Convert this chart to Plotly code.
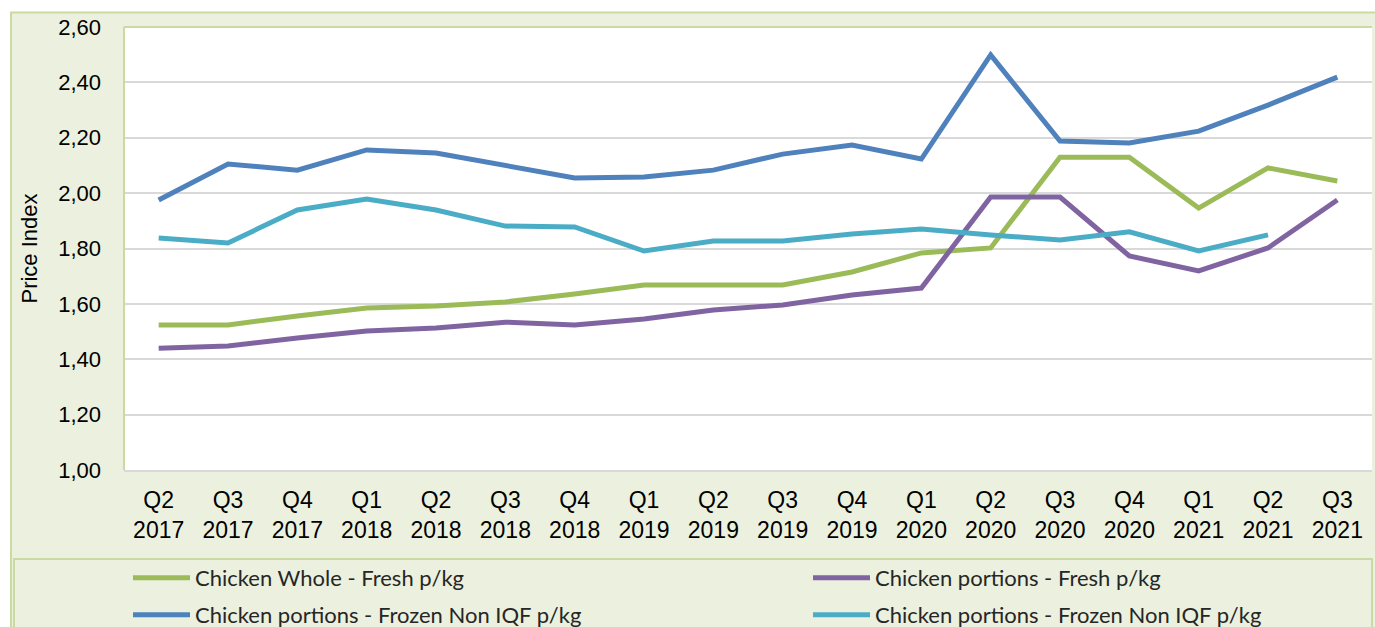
import plotly.graph_objects as go

quarters = ["Q2<br>2017", "Q3<br>2017", "Q4<br>2017", "Q1<br>2018", "Q2<br>2018", "Q3<br>2018",
            "Q4<br>2018", "Q1<br>2019", "Q2<br>2019", "Q3<br>2019", "Q4<br>2019", "Q1<br>2020",
            "Q2<br>2020", "Q3<br>2020", "Q4<br>2020", "Q1<br>2021", "Q2<br>2021", "Q3<br>2021"]

whole_fresh = [1.524, 1.524, 1.556, 1.585, 1.592, 1.607, 1.636, 1.668, 1.668, 1.668, 1.715, 1.784,
               1.802, 2.130, 2.130, 1.946, 2.091, 2.044]
portions_fresh = [1.440, 1.448, 1.477, 1.502, 1.513, 1.534, 1.524, 1.545, 1.578, 1.596, 1.632, 1.657,
                  1.986, 1.986, 1.773, 1.719, 1.802, 1.975]
portions_frozen_a = [1.975, 2.105, 2.083, 2.156, 2.145, 2.098, 2.055, 2.058, 2.083, 2.141, 2.174, 2.123,
                     2.499, 2.188, 2.181, 2.224, 2.318, 2.419]
portions_frozen_b = [1.838, 1.820, 1.939, 1.979, 1.939, 1.881, 1.878, 1.791, 1.827, 1.827, 1.852, 1.870,
                     1.849, 1.831, 1.860, 1.791, 1.849, None]

names = ["Chicken Whole - Fresh p/kg", "Chicken portions - Fresh p/kg",
         "Chicken portions - Frozen Non IQF p/kg", "Chicken portions - Frozen Non IQF p/kg"]
colors = ["#9BBB59", "#8064A2", "#4F81BD", "#4BACC6"]
series = [whole_fresh, portions_fresh, portions_frozen_a, portions_frozen_b]
legend_ids = ["legend", "legend2", "legend3", "legend4"]
# legend anchor positions in page pixels (x of entry, y of row centre)
legend_pos = [(128, 578), (808, 578), (128, 615), (808, 615)]

W, H = 1375, 627
PL, PR, PT, PB = 124, 1372, 27, 470  # plot area in page pixels
ML, MR, MT, MB = PL, W - PR, PT, H - PB
PW, PH = W - ML - MR, H - MT - MB


def px(x):
    return (x - ML) / PW


def py(y):
    return (H - MB - y) / PH


BG = "#EBF1DE"
BORDER = "#C9DBA3"

fig = go.Figure()
for name, col, vals, lg in zip(names, colors, series, legend_ids):
    fig.add_trace(go.Scatter(x=quarters, y=vals, name=name, mode="lines",
                             line=dict(color=col, width=5), legend=lg,
                             connectgaps=False))

shapes = [
    dict(type="rect", xref="paper", yref="paper", x0=px(-5), x1=px(10), y0=py(-5), y1=py(700),
         fillcolor="white", line=dict(width=0), layer="below"),
    dict(type="rect", xref="paper", yref="paper", x0=px(-5), x1=px(1400), y0=py(-5), y1=py(12),
         fillcolor="white", line=dict(width=0), layer="below"),
    dict(type="rect", xref="paper", yref="paper", x0=px(11), x1=px(1400), y0=py(12.5), y1=py(700),
         fillcolor="rgba(0,0,0,0)", line=dict(color=BORDER, width=2), layer="below"),
    dict(type="rect", xref="paper", yref="paper", x0=px(14), x1=px(1372), y0=py(559), y1=py(700),
         fillcolor="rgba(0,0,0,0)", line=dict(color=BORDER, width=2), layer="below"),
    dict(type="line", xref="paper", yref="paper", x0=0, x1=1, y0=1, y1=1,
         line=dict(color=BORDER, width=2)),
    dict(type="line", xref="paper", yref="paper", x0=0, x1=0, y0=0, y1=1,
         line=dict(color=BORDER, width=2)),
]

legend_font = dict(family="Lato", size=22, color="#262626")

layout_legends = {}
for lg, (lx, ly) in zip(legend_ids, legend_pos):
    layout_legends[lg] = dict(orientation="h", xref="container", yref="container",
                              x=lx / W, xanchor="left", y=1 - ly / H, yanchor="middle",
                              itemwidth=57, font=legend_font, bgcolor="rgba(0,0,0,0)",
                              borderwidth=0)

fig.update_layout(
    width=W, height=H,
    margin=dict(l=ML, r=MR, t=MT, b=MB, autoexpand=False),
    paper_bgcolor=BG, plot_bgcolor="white",
    separators=",.",
    showlegend=True,
    shapes=shapes,
    xaxis=dict(type="category", range=[-0.5, 17.5], showgrid=False, automargin=False,
               showline=True, linecolor="#D9D9D9", linewidth=2,
               ticks="", tickfont=dict(family="Liberation Sans", size=23, color="#000000"),
               ticklabelstandoff=8, fixedrange=True),
    yaxis=dict(range=[1.0, 2.6], dtick=0.2, tick0=1.0, tickformat=".2f", automargin=False,
               showgrid=True, gridcolor="#D9D9D9", gridwidth=2,
               zeroline=False, showline=False, ticks="",
               tickfont=dict(family="Liberation Sans", size=22, color="#000000"),
               ticklabelstandoff=22,
               title=dict(text="Price Index", font=dict(family="Liberation Sans", size=22, color="#000000"),
                          standoff=14)),
    **layout_legends,
)

fig.write_html("out.html", config={"displayModeBar": False},
               post_script="document.body.style.margin='0';")
